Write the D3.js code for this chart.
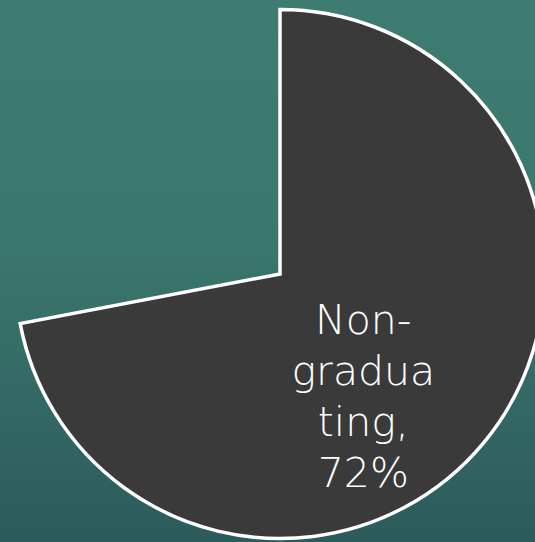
<!DOCTYPE html>
<html>
<head>
<meta charset="utf-8">
<script src="https://cdn.jsdelivr.net/npm/d3@7"></script>
<style>
  html, body { margin: 0; padding: 0; overflow: hidden; }
  svg { display: block; }
</style>
</head>
<body>
<script>
'use strict';

// chart data
const categories = ["Non-graduating", "Graduating"];
const values = [72, 28];
const labelLines = ["Non-", "gradua", "ting,", "72%"];
const sliceFills = ["#3a3a3a", "none"];

(function() {
  const width = 535, height = 542;
  const cx = 280, cy = 274, radius = 264.5;

  const svg = d3.select('body')
    .append('svg')
    .attr('width', width)
    .attr('height', height);

  // teal slide background
  const defs = svg.append('defs');
  const grad = defs.append('linearGradient')
    .attr('id', 'bg')
    .attr('x1', 0).attr('y1', 0)
    .attr('x2', 0).attr('y2', 1);
  grad.append('stop').attr('offset', '0%').attr('stop-color', '#3e7b71');
  grad.append('stop').attr('offset', '45%').attr('stop-color', '#3a776d');
  grad.append('stop').attr('offset', '100%').attr('stop-color', '#2c5b5c');

  svg.append('rect')
    .attr('width', width)
    .attr('height', height)
    .attr('fill', 'url(#bg)');

  // pie starting at 12 o'clock, clockwise
  const pie = d3.pie().sort(null).value(d => d.value);
  const arcs = pie(categories.map((c, i) => ({ name: c, value: values[i], fill: sliceFills[i] })));
  const arc = d3.arc().innerRadius(0).outerRadius(radius);

  const g = svg.append('g')
    .attr('transform', 'translate(' + cx + ',' + cy + ')');

  g.selectAll('path')
    .data(arcs)
    .enter()
    .append('path')
    .attr('d', arc)
    .attr('fill', d => d.data.fill)
    .attr('stroke', d => d.data.fill === 'none' ? 'none' : '#ffffff')
    .attr('stroke-width', 3.5)
    .attr('stroke-linejoin', 'miter');

  // data label inside the first slice
  const first = arcs[0];
  const labelAngle = first.startAngle + (first.endAngle - first.startAngle) * 0.565;
  const labelPos = d3.pointRadial(labelAngle, radius * 0.57);
  const lineH = 51;

  const label = g.append('text')
    .attr('x', labelPos[0])
    .attr('y', labelPos[1] - lineH * (labelLines.length - 1) / 2 - 3)
    .attr('text-anchor', 'middle')
    .attr('dominant-baseline', 'central')
    .style('font-family', '"DejaVu Sans", sans-serif')
    .style('font-weight', 200)
    .style('font-size', '41px')
    .style('font-variant-ligatures', 'none')
    .attr('fill', '#ffffff');

  label.selectAll('tspan')
    .data(labelLines)
    .enter()
    .append('tspan')
    .attr('x', labelPos[0])
    .attr('dy', (d, i) => i === 0 ? 0 : lineH)
    .text(d => d);
})();
</script>
</body>
</html>
